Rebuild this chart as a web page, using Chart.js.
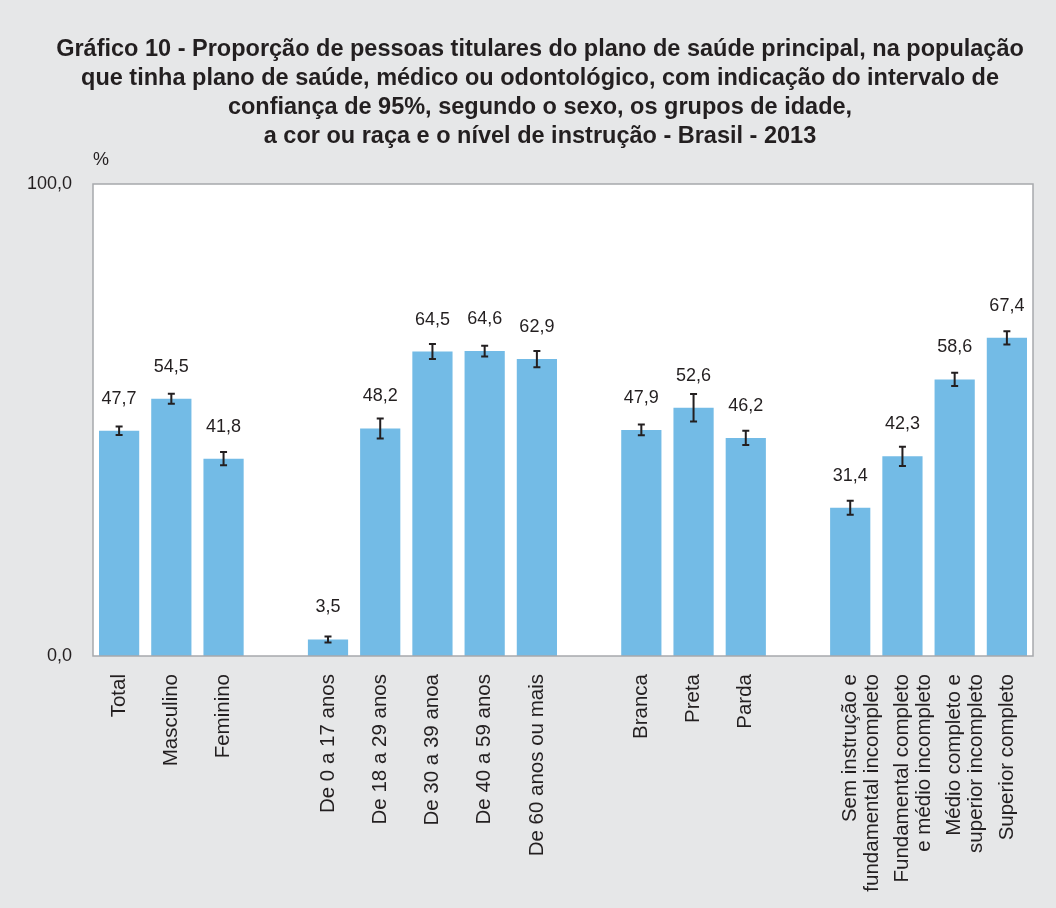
<!DOCTYPE html>
<html>
<head>
<meta charset="utf-8">
<script src="https://cdn.jsdelivr.net/npm/chart.js@4.4.1/dist/chart.umd.min.js"></script>
<style>
  html, body { margin: 0; padding: 0; background: #e6e7e8; }
  #wrap { width: 1056px; height: 908px; }
</style>
</head>
<body>
<div id="wrap"><canvas id="myChart" width="1056" height="908"></canvas></div>
<script>
const titleLines = [
  "Gráfico 10 - Proporção de pessoas titulares do plano de saúde principal, na população",
  "que tinha plano de saúde, médico ou odontológico, com indicação do intervalo de",
  "confiança de 95%, segundo o sexo, os grupos de idade,",
  "a cor ou raça e o nível de instrução - Brasil - 2013"
];
const unitLabel = "%";

// empty strings / nulls are the gaps between groups
const categories = [
  "Total", "Masculino", "Feminino", "",
  "De 0 a 17 anos", "De 18 a 29 anos", "De 30 a 39 anoa", "De 40 a 59 anos", "De 60 anos ou mais", "",
  "Branca", "Preta", "Parda", "",
  ["Sem instrução e", "fundamental incompleto"],
  ["Fundamental completo", "e médio incompleto"],
  ["Médio completo e", "superior incompleto"],
  "Superior completo"
];
const values = [47.7, 54.5, 41.8, null, 3.5, 48.2, 64.5, 64.6, 62.9, null, 47.9, 52.6, 46.2, null, 31.4, 42.3, 58.6, 67.4];
// half width of the 95% confidence interval
const errors = [0.9, 1.05, 1.4, null, 0.65, 2.1, 1.6, 1.15, 1.7, null, 1.15, 2.9, 1.5, null, 1.5, 2.05, 1.4, 1.4];
const yTicks = [0, 100];

const ink = "#231f20";
const fmt = v => v.toFixed(1).replace(".", ",");

const decor = {
  id: "decor",
  beforeDraw(chart) {
    const {ctx, chartArea: a} = chart;
    ctx.save();
    ctx.fillStyle = "#e6e7e8";
    ctx.fillRect(0, 0, chart.width, chart.height);
    ctx.fillStyle = "#ffffff";
    ctx.fillRect(a.left, a.top, a.right - a.left, a.bottom - a.top);
    ctx.restore();
  },
  afterDatasetsDraw(chart) {
    const {ctx, chartArea: a} = chart;
    const y = chart.scales.y;
    const meta = chart.getDatasetMeta(0);
    ctx.save();

    // error bars
    ctx.strokeStyle = ink;
    ctx.lineWidth = 2;
    meta.data.forEach((bar, i) => {
      if (values[i] == null) return;
      const x = bar.x;
      const lo = y.getPixelForValue(values[i] - errors[i]);
      const hi = y.getPixelForValue(values[i] + errors[i]);
      ctx.beginPath();
      ctx.moveTo(x, lo); ctx.lineTo(x, hi);
      ctx.moveTo(x - 3.5, lo); ctx.lineTo(x + 3.5, lo);
      ctx.moveTo(x - 3.5, hi); ctx.lineTo(x + 3.5, hi);
      ctx.stroke();
    });

    // value labels
    ctx.fillStyle = ink;
    ctx.font = "18px 'Liberation Sans', Arial, sans-serif";
    ctx.textAlign = "center";
    ctx.textBaseline = "middle";
    meta.data.forEach((bar, i) => {
      if (values[i] == null) return;
      ctx.fillText(fmt(values[i]), bar.x, bar.y - 32);
    });

    // plot frame
    ctx.strokeStyle = "#a7a9ac";
    ctx.lineWidth = 1.5;
    ctx.strokeRect(a.left, a.top, a.right - a.left, a.bottom - a.top);

    // title
    ctx.font = "bold 23.5px 'Liberation Sans', Arial, sans-serif";
    titleLines.forEach((t, k) => ctx.fillText(t, 540, 50 + k * 29));

    ctx.font = "18px 'Liberation Sans', Arial, sans-serif";
    ctx.fillText(unitLabel, a.left + 8, a.top - 24);
    ctx.restore();
  }
};

new Chart("myChart", {
  type: "bar",
  data: {
    labels: categories,
    datasets: [{
      data: values,
      backgroundColor: "#73bbe6",
      barPercentage: 0.77,
      categoryPercentage: 1.0
    }]
  },
  options: {
    responsive: false,
    animation: false,
    layout: {padding: {top: 184, right: 23, bottom: 0, left: 0}},
    plugins: {
      legend: {display: false},
      title: {display: false},
      tooltip: {enabled: false}
    },
    scales: {
      x: {
        grid: {display: false, drawTicks: false},
        border: {display: false},
        afterFit(s) { s.height = 252; },
        ticks: {
          color: ink,
          font: {family: "'Liberation Sans', Arial, sans-serif", size: 20.5, lineHeight: 1.08},
          minRotation: 90,
          maxRotation: 90,
          autoSkip: false,
          padding: 18
        }
      },
      y: {
        min: 0,
        max: 100,
        afterFit(s) { s.width = 93; },
        afterBuildTicks(s) { s.ticks = yTicks.map(v => ({value: v})); },
        grid: {display: false, drawTicks: false},
        border: {display: false},
        ticks: {
          color: ink,
          font: {family: "'Liberation Sans', Arial, sans-serif", size: 18},
          padding: 21,
          callback: v => fmt(v)
        }
      }
    }
  },
  plugins: [decor]
});
</script>
</body>
</html>
